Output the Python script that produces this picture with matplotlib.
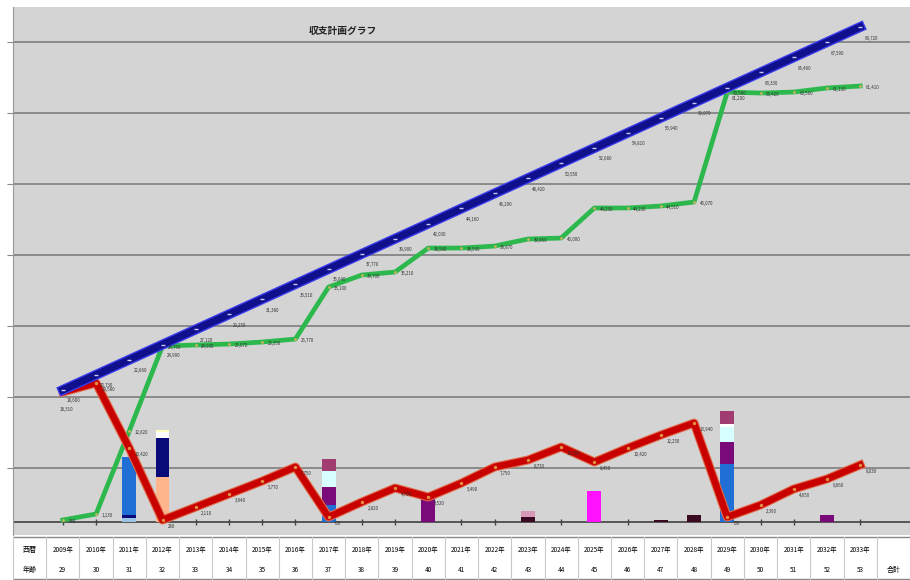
import matplotlib
matplotlib.use("Agg")
import matplotlib.pyplot as plt
import matplotlib.patheffects as pe
import numpy as np

plt.rcParams['font.family'] = ['Noto Sans CJK JP', 'DejaVu Sans']

# 年・年齢
years = ["2009年", "2010年", "2011年", "2012年", "2013年", "2014年", "2015年", "2016年",
         "2017年", "2018年", "2019年", "2020年", "2021年", "2022年", "2023年", "2024年",
         "2025年", "2026年", "2027年", "2028年", "2029年", "2030年", "2031年", "2032年", "2033年"]
ages = ["29", "30", "31", "32", "33", "34", "35", "36", "37", "38", "39", "40", "41",
        "42", "43", "44", "45", "46", "47", "48", "49", "50", "51", "52", "53"]

# 折れ線（万円）
blue_vals = [1860, 2073, 2286, 2499, 2712, 2925, 3138, 3351, 3564, 3777, 3990, 4203, 4416,
             4629, 4842, 5055, 5268, 5481, 5694, 5907, 6120, 6333, 6546, 6759, 6972]
green_vals = [28, 113, 1282, 2479, 2493, 2507, 2535, 2577, 3310, 3479, 3521, 3859, 3859,
              3887, 3986, 4000, 4423, 4423, 4451, 4507, 6056, 6042, 6056, 6113, 6141]
red_vals = [1831, 1958, 1042, 28, 211, 394, 577, 775, 70, 282, 479, 352, 549,
            775, 873, 1056, 845, 1042, 1225, 1394, 70, 239, 465, 606, 803]

# 積み上げ棒（下から順）
z = [0] * 25
light_blue = list(z); light_blue[2] = 56
peach = list(z); peach[3] = 634
navy = list(z); navy[2] = 42; navy[3] = 549
blue = list(z); blue[2] = 817; blue[8] = 239; blue[20] = 817
maroon = list(z); maroon[14] = 70; maroon[18] = 28; maroon[19] = 99
purple = list(z); purple[8] = 254; purple[11] = 352; purple[20] = 310; purple[23] = 99
magenta = list(z); magenta[16] = 437
pink = list(z); pink[14] = 85
cyan = list(z); cyan[8] = 225; cyan[20] = 211
white = list(z); white[3] = 85; white[20] = 42
mauve = list(z); mauve[8] = 169; mauve[20] = 183
yellow = list(z); yellow[3] = 28

stack = [(light_blue, '#9dc3e6'), (peach, '#ffb58c'), (navy, '#0a0a78'), (blue, '#1f6fd6'),
         (maroon, '#3a0a20'), (purple, '#7a0a7a'), (magenta, '#ff10ff'), (pink, '#d898b8'),
         (cyan, '#d8ffff'), (white, '#ffffff'), (mauve, '#a03c70'), (yellow, '#ffffc0')]

fig = plt.figure(figsize=(9.1, 5.8), dpi=100)
ax = fig.add_axes([13/910, 45/580, 897/910, 528/580])
ax.set_facecolor('#d4d4d4')

x = np.arange(1, 26)
ax.set_xlim(-0.5, 26.5)
ax.set_ylim(-183, 7254)
ax.set_yticks(np.arange(760, 7000, 1000))
ax.set_yticklabels([])
ax.set_xticks([])
ax.grid(axis='y', color='#8a8a8a', linewidth=1.4)
ax.set_axisbelow(True)
ax.axhline(0, color='#555555', linewidth=1.4, zorder=1)
ax.tick_params(axis='y', direction='out', length=4, color='#888888')
for s in ['top', 'right', 'bottom']:
    ax.spines[s].set_visible(False)
ax.spines['left'].set_color('#999999')

# 棒
bottom = np.zeros(25)
for vals, col in stack:
    v = np.array(vals, dtype=float)
    ax.bar(x, v, width=0.42, bottom=bottom, color=col, edgecolor='none', zorder=2)
    bottom += v
empty = [i for i in range(25) if bottom[i] == 0]
ax.plot(x[empty], np.zeros(len(empty)), '|', color='#444444', ms=4, zorder=2)

# 折れ線
ax.plot(x, green_vals, color='#2cb84c', lw=3.4, zorder=3)
ax.plot(x, green_vals, 'o', ms=2, color='#d0b060', mec='none', zorder=3)
ax.plot(x, red_vals, color='#c80000', lw=4.8, zorder=4,
        path_effects=[pe.Stroke(linewidth=6.4, foreground='#e06848'), pe.Normal()])
ax.plot(x, red_vals, 'o', ms=2.5, color='#e09040', mec='none', zorder=4)
ax.plot(x, blue_vals, color='#10108c', lw=5.2, zorder=5,
        path_effects=[pe.Stroke(linewidth=7.2, foreground='#3a3aee'), pe.Normal()])
ax.plot(x, blue_vals, '_', ms=3, mew=1, color='#c8c8ff', zorder=5)

# データラベル
for vals, off in [(blue_vals, (3, -9)), (green_vals, (4, -2)), (red_vals, (4, -6))]:
    for i, (xi, v) in enumerate(zip(x, vals)):
        o = off
        if vals is red_vals and i == 0:
            o = (-2, -14)
        ax.annotate(f"{v * 10:,}", (xi, v), xytext=o, textcoords='offset points',
                    fontsize=3.2, color='#333333', zorder=6)

ax.text(8.4, 6870, "収支計画グラフ", fontsize=7, fontweight='bold', color='#222222')

# データテーブル
tb = fig.add_axes([13/910, 0, 897/910, 45/580])
tb.set_xlim(-0.5, 26.5)
tb.set_ylim(0, 45)
tb.axis('off')
tb.axhline(43, color='#888888', lw=1)
tb.axhline(1.5, color='#888888', lw=1)
for k in range(27):
    tb.plot([k - 0.5, k - 0.5], [1.5, 43], color='#c8c8c8', lw=0.8)
tb.text(0, 30, "西暦", ha='center', va='center', fontsize=5)
tb.text(0, 10, "年齢", ha='center', va='center', fontsize=5)
for xi, yr, ag in zip(x, years, ages):
    tb.text(xi, 30, yr, ha='center', va='center', fontsize=4.6)
    tb.text(xi, 10, ag, ha='center', va='center', fontsize=4.6)
tb.text(26, 10, "合計", ha='center', va='center', fontsize=5)

fig.savefig("out.png", dpi=100)
